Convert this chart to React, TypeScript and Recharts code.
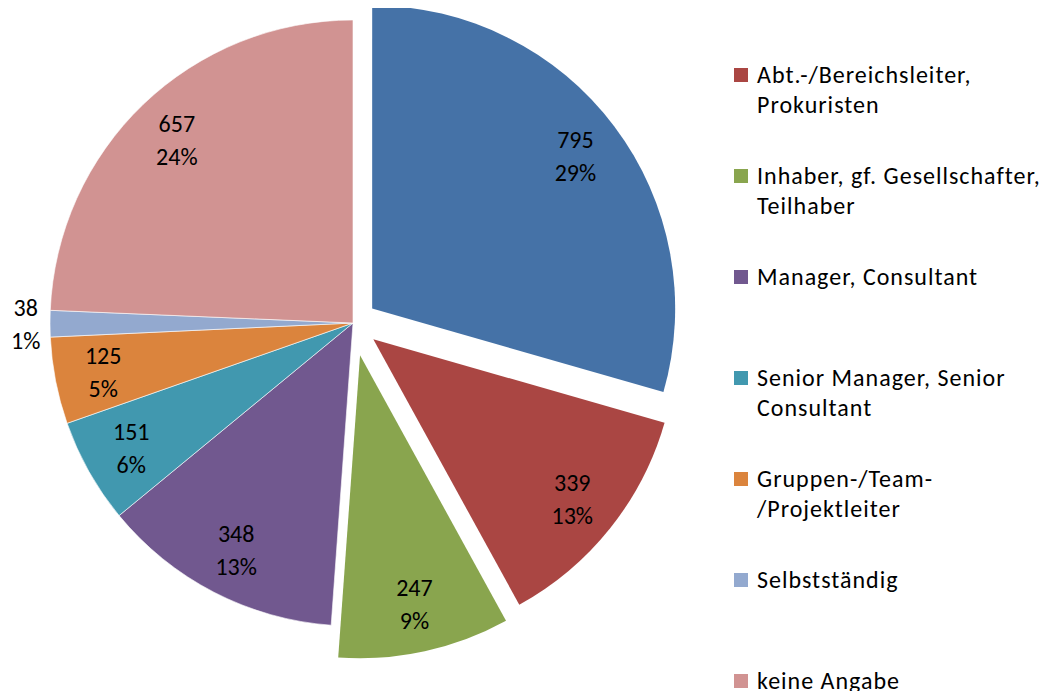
import { PieChart, Pie, Cell, Legend } from 'recharts';

// Categories (line breaks as they wrap in the legend); the first one is cut off in the source picture
const categories = [
  'Geschäftsführer, Vorstand',
  'Abt.-/Bereichsleiter,\nProkuristen',
  'Inhaber, gf. Gesellschafter,\nTeilhaber',
  'Manager, Consultant',
  'Senior Manager, Senior\nConsultant',
  'Gruppen-/Team-\n/Projektleiter',
  'Selbstständig',
  'keine Angabe',
];
const counts = [795, 339, 247, 348, 151, 125, 38, 657];

const colors = ['#4572A7', '#AA4643', '#89A54E', '#71588F', '#4198AF', '#DB843D', '#93A9CF', '#D19392'];
// how far each slice is pulled out of the pie, in px
const explode = [24, 26, 33, 0, 0, 0, 0, 0];

const data = categories.map((name, i) => ({ name, value: counts[i] }));
const total = counts.reduce((a, b) => a + b, 0);

const CX = 345;
const CY = 315;
const R = 303;
const FONT = 'Carlito, Lato, "Noto Sans", sans-serif';
const RAD = Math.PI / 180;

// offset of a slice centre along its bisector
const sliceOffset = (i: number) => {
  const before = counts.slice(0, i).reduce((a, b) => a + b, 0);
  const mid = ((before + counts[i] / 2) / total) * 360;
  return { dx: explode[i] * Math.sin(mid * RAD), dy: -explode[i] * Math.cos(mid * RAD) };
};

const makeLabel = (own: (i: number) => boolean) => (props: any) => {
  const { cx, cy, midAngle, outerRadius, value, index } = props;
  if (!own(index)) return null;
  const pct = value / total;
  const rr = pct < 0.02 ? outerRadius * 1.08 : outerRadius * 0.84;
  const x = cx + rr * Math.cos(-midAngle * RAD);
  const y = cy + rr * Math.sin(-midAngle * RAD);
  return (
    <text x={x} y={y} textAnchor="middle" fontSize={24} fontFamily={FONT} fill="#000">
      <tspan x={x} y={y - 16} dominantBaseline="central">{value}</tspan>
      <tspan x={x} y={y + 17} dominantBaseline="central">{Math.round(pct * 100)}%</tspan>
    </text>
  );
};

const renderLegend = () => (
  <div style={{ position: 'relative', width: 320, height: 683, fontFamily: FONT }}>
    {data.slice(1).map((d, k) => (
      <div key={d.name} style={{ position: 'absolute', left: 0, top: 52 + 101 * k, display: 'flex' }}>
        <span style={{ width: 14, height: 14, marginTop: 8, marginRight: 9, background: colors[k + 1], flexShrink: 0 }} />
        <span style={{ fontSize: 24, lineHeight: '30px', letterSpacing: '1px', color: '#000', whiteSpace: 'pre' }}>
          {d.name}
        </span>
      </div>
    ))}
  </div>
);

const exploded = explode.map((e, i) => (e > 0 ? i : -1)).filter((i) => i >= 0);

export default function App() {
  return (
    <PieChart width={1039} height={683} margin={{ top: 0, right: 0, bottom: 0, left: 0 }}>
      <Pie
        data={data}
        dataKey="value"
        cx={CX}
        cy={CY}
        outerRadius={R}
        startAngle={90}
        endAngle={-270}
        isAnimationActive={false}
        labelLine={false}
        label={makeLabel((i) => explode[i] === 0)}
      >
        {data.map((d, i) => (
          <Cell
            key={d.name}
            fill={explode[i] === 0 ? colors[i] : 'transparent'}
            stroke={explode[i] === 0 ? '#fff' : 'none'}
            strokeWidth={0.6}
          />
        ))}
      </Pie>
      {exploded.map((j) => {
        const { dx, dy } = sliceOffset(j);
        return (
          <Pie
            key={j}
            data={data}
            dataKey="value"
            cx={CX + dx}
            cy={CY + dy}
            outerRadius={R}
            startAngle={90}
            endAngle={-270}
            isAnimationActive={false}
            labelLine={false}
            label={makeLabel((i) => i === j)}
          >
            {data.map((d, i) => (
              <Cell key={d.name} fill={i === j ? colors[i] : 'transparent'} stroke="none" />
            ))}
          </Pie>
        );
      })}
      <Legend
        content={renderLegend}
        wrapperStyle={{ position: 'absolute', left: 726, top: 0, width: 320, height: 683 }}
      />
    </PieChart>
  );
}
